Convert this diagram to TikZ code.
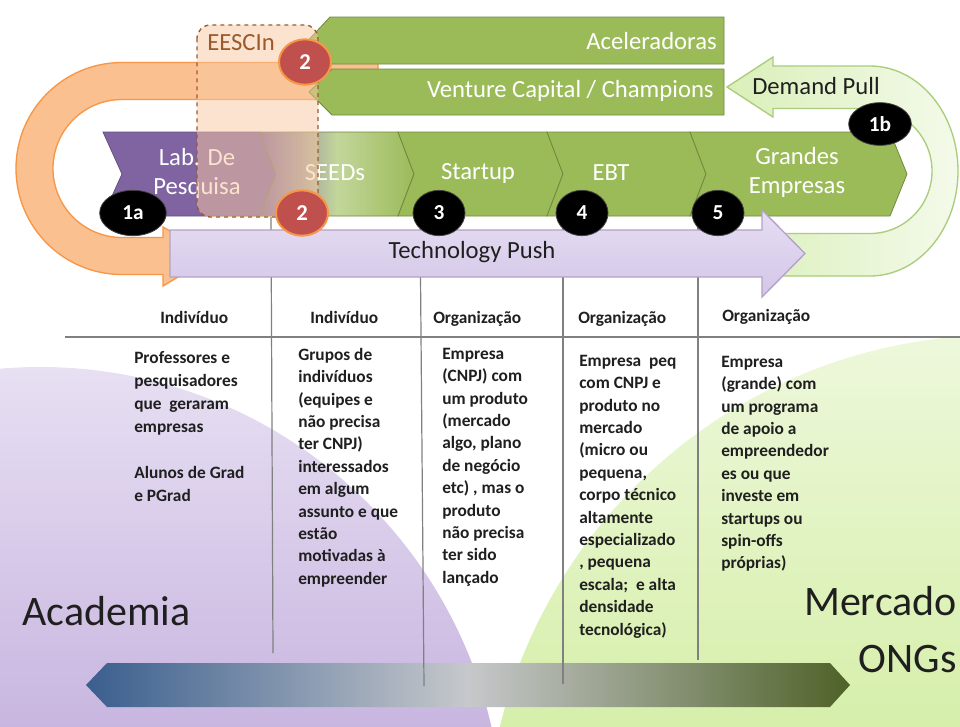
\documentclass[tikz,border=0pt]{standalone}
\usepackage{fontspec}
\setmainfont{Carlito}
\usetikzlibrary{shapes.geometric}

\definecolor{chevgreen}{HTML}{9BBB59}
\definecolor{chevedge}{HTML}{71893F}
\definecolor{labpurple}{HTML}{8064A2}
\definecolor{seedlight}{HTML}{C3D69B}
\definecolor{orfill}{HTML}{FAC08F}
\definecolor{oredge}{HTML}{F79646}
\definecolor{pushtop}{HTML}{E6DEF3}
\definecolor{pushbot}{HTML}{D3C6E7}
\definecolor{pushedge}{HTML}{B3A2C7}
\definecolor{pullleft}{HTML}{D9EFB8}
\definecolor{pullright}{HTML}{F4FAEA}
\definecolor{pulledge}{HTML}{A9CD7A}
\definecolor{redball}{HTML}{C0504D}
\definecolor{eescfill}{HTML}{F9C8A0}
\definecolor{eescedge}{HTML}{9C5A2C}
\definecolor{acadtop}{HTML}{E8E0F3}
\definecolor{acadbot}{HTML}{C8B6E0}
\definecolor{merctop}{HTML}{EEF8DC}
\definecolor{mercbot}{HTML}{D6EFAA}
\definecolor{gridline}{HTML}{808080}
\definecolor{spanblue}{HTML}{3A5E8E}
\definecolor{spanmid}{HTML}{C6C8CB}
\definecolor{spanolive}{HTML}{4F6228}
\definecolor{tabletext}{HTML}{1F1F1F}

\begin{document}
\begin{tikzpicture}[x=0.75pt,y=-0.75pt,
  every node/.style={inner sep=0pt},
  chev/.style={fill=chevgreen, draw=chevedge, line width=0.6pt},
  chevtext/.style={text=white, align=center, font=\fontsize{18.5}{21.75}\selectfont},
  bartext/.style={text=white, anchor=east, font=\fontsize{18.5}{21.75}\selectfont},
  arrowtext/.style={text=tabletext, font=\fontsize{18.5}{21.75}\selectfont},
  headtext/.style={anchor=base west, text=tabletext, font=\fontsize{13}{16}\selectfont\bfseries},
  celltext/.style={anchor=north west, align=left, text=tabletext, font=\fontsize{13}{16.8}\selectfont\bfseries},
  bigword/.style={anchor=base west, text=black!88, font=\fontsize{31.5}{36}\selectfont},
  blackball/.style={ellipse, fill=black, draw=black!75, line width=0.6pt, text=white,
    minimum width=39pt, minimum height=34pt, font=\fontsize{16}{16}\selectfont\bfseries},
  redballstyle/.style={ellipse, fill=redball, draw=oredge, line width=1.5pt, text=white,
    minimum width=39pt, minimum height=34pt, font=\fontsize{17}{17}\selectfont\bfseries},
  gridrule/.style={draw=gridline, line width=0.9pt}
]
\useasboundingbox (0,0) rectangle (960,726);
\fill[white] (0,0) rectangle (960,726);

% Academia and market backdrops
\begin{scope}
  \clip (40,830) circle [radius=463];
  \shade[top color=acadtop, bottom color=acadbot] (0,360) rectangle (520,726);
\end{scope}
\begin{scope}
  \clip (1000,850) circle [radius=515];
  \shade[top color=merctop, bottom color=mercbot] (480,330) rectangle (960,726);
\end{scope}

% academia-to-market span
\shade[left color=spanblue, right color=spanolive, middle color=spanmid]
  (86,685) -- (107,663) -- (830,663) -- (850,685) -- (830,707) -- (107,707) -- cycle;

% table rules
\draw[gridrule] (65,337) -- (960,337);
\draw[gridrule] (271,217) -- (273,653);
\draw[gridrule] (420,217) -- (424,686);
\draw[gridrule] (563,217) -- (563,684);
\draw[gridrule] (698,217) -- (698,660);

% column headers
\node[headtext] (h1) at (160,323) {Indivíduo};
\node[headtext] (h2) at (310,323) {Indivíduo};
\node[headtext] (h3) at (433,323) {Organização};
\node[headtext] (h4) at (578,323) {Organização};
\node[headtext] (h5) at (722,321) {Organização};

% column contents
\node[celltext, font=\fontsize{13}{17.25}\selectfont\bfseries] (c1) at (134,347.3)
  {\strut Professores e\\pesquisadores\\que~ geraram\\empresas\\[17.25pt]Alunos de Grad\\e PGrad};
\node[celltext] (c2) at (298,344.3)
  {\strut Grupos de\\indivíduos\\(equipes e\\não precisa\\ter CNPJ)\\interessados\\em algum\\assunto e que\\estão\\motivadas à\\empreender};
\node[celltext] (c3) at (442,343.3)
  {\strut Empresa\\(CNPJ) com\\um produto\\(mercado\\algo, plano\\de negócio\\etc) , mas o\\produto\\não precisa\\ter sido\\lançado};
\node[celltext] (c4) at (579,350.3)
  {\strut Empresa~ peq\\com CNPJ e\\produto no\\mercado\\(micro ou\\pequena,\\corpo técnico\\altamente\\especializado\\, pequena\\escala;~ e alta\\densidade\\tecnológica)};
\node[celltext] (c5) at (721,351.3)
  {\strut Empresa\\(grande) com\\um programa\\de apoio a\\empreendedor\\es ou que\\investe em\\startups ou\\spin-offs\\próprias)};

% sector labels
\node[bigword] (acad) at (22,625) {Academia};
\node[bigword, anchor=base east] (merc) at (957,615) {Mercado};
\node[bigword, anchor=base east] (ongs) at (957,672) {ONGs};

% orange U-turn arrow (1a)
\draw[fill=orfill, draw=oredge, line width=1pt]
  (378,62.5) -- (122,62.5) arc[start angle=270, end angle=90, radius=106]
  -- (163,274.5) -- (163,286) -- (213,256) -- (163,227) -- (163,237.5) -- (122,237.5)
  arc[start angle=90, end angle=270, radius=69] -- (378,99.5) -- cycle;

% green U-turn arrow (Demand Pull)
\draw[left color=pullleft, right color=pullright, draw=pulledge, line width=1pt]
  (773,66) -- (870,66) arc[start angle=270, end angle=450, x radius=88, y radius=105]
  -- (722,276) -- (722,233.5) -- (870,233.5)
  arc[start angle=90, end angle=-90, x radius=62, y radius=62.5]
  -- (773,108.5) -- (773,117) -- (727,87) -- (773,57) -- cycle;
\node[arrowtext, anchor=west] (pull) at (752,86) {Demand Pull};

% support bars
\draw[chev] (330,17) -- (724,17) -- (724,64) -- (330,64) -- (308,40.5) -- cycle;
\draw[chev] (332,69) -- (724,69) -- (724,115) -- (332,115) -- (309,92) -- cycle;
\node[bartext] (acel) at (717,41) {Aceleradoras};
\node[bartext] (vc) at (714,91) {Venture Capital / Champions};

% stage chevrons
\draw[fill=labpurple, draw=labpurple!80!black, line width=0.6pt]
  (103,132) -- (260,132) -- (276,174) -- (260,216) -- (103,216) -- (122,174) -- cycle;
\draw[left color=labpurple, right color=chevgreen, middle color=seedlight, draw=chevedge, line width=0.6pt]
  (260,132) -- (398,132) -- (414,174) -- (398,216) -- (260,216) -- (276,174) -- cycle;
\draw[chev] (398,132) -- (547,132) -- (563,174) -- (547,216) -- (398,216) -- (414,174) -- cycle;
\draw[chev] (547,132) -- (690,132) -- (706,174) -- (690,216) -- (547,216) -- (563,174) -- cycle;
\draw[chev] (690,132) -- (890,132) -- (907,174) -- (890,216) -- (690,216) -- (706,174) -- cycle;
\node[chevtext] (lab) at (197,173) {Lab. De\\Pesquisa};
\node[chevtext] (seeds) at (335,173) {SEEDs};
\node[chevtext] (startup) at (478,173) {Startup};
\node[chevtext] (ebt) at (611,173) {EBT};
\node[chevtext] (grandes) at (797,172) {Grandes\\Empresas};

% Technology Push arrow
\draw[top color=pushtop, bottom color=pushbot, draw=pushedge, line width=1pt]
  (170,230) -- (762,230) -- (762,210) -- (805,253.5) -- (762,297) -- (762,277) -- (170,277) -- cycle;
\node[arrowtext] (push) at (472,252) {Technology Push};

% EESCIn frame
\draw[fill=eescfill, fill opacity=0.5, draw=eescedge, dashed, line width=1pt, rounded corners=10pt]
  (197,25) rectangle (318,217);
\node[anchor=west, text=eescedge, font=\fontsize{18.5}{21.75}\selectfont] (eesc) at (207,43) {EESCIn};

% numbered markers
\node[redballstyle] (r2a) at (305,62) {2};
\node[redballstyle] (r2b) at (302,213) {2};
\node[blackball, minimum width=50pt] (m1a) at (133,213) {1a};
\node[blackball, minimum width=47pt, minimum height=32pt] (m1b) at (880,124) {1b};
\node[blackball] (m3) at (439,213) {3};
\node[blackball] (m4) at (582,213) {4};
\node[blackball] (m5) at (718,213) {5};
\end{tikzpicture}
\end{document}
